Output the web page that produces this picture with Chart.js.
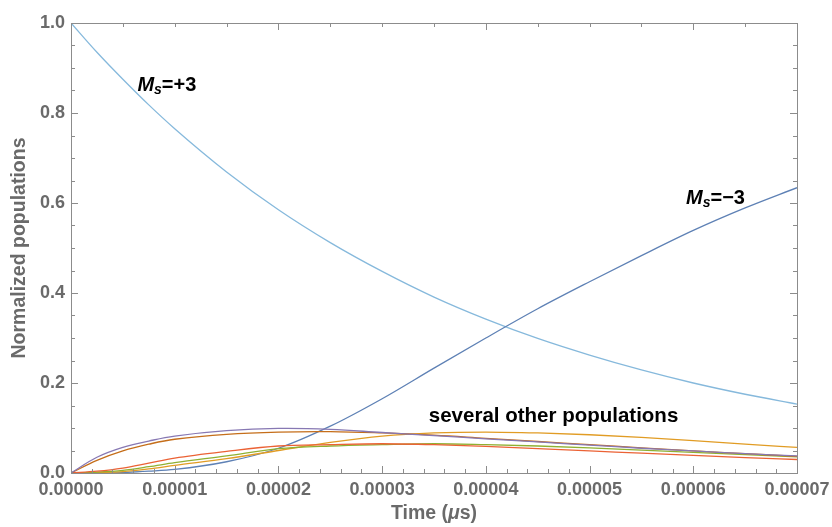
<!DOCTYPE html>
<html><head><meta charset="utf-8">
<script src="https://cdn.jsdelivr.net/npm/chart.js@4/dist/chart.umd.min.js"></script>
<style>html,body{margin:0;padding:0;background:#fff}#wrap{width:832px;height:527px}</style>
</head><body><div id="wrap"><canvas id="c" width="832" height="527"></canvas></div>
<script>
// Time points (μs) and population values
const times = [0, 0.0000025, 0.000005, 0.0000075, 0.00001, 0.000015, 0.00002, 0.000025, 0.00003, 0.000035,
               0.00004, 0.000045, 0.00005, 0.000055, 0.00006, 0.000065, 0.00007];
const msPlus3  = [1.000, 0.935, 0.875, 0.818, 0.765, 0.669, 0.585, 0.512, 0.448, 0.391, 0.342, 0.299, 0.262, 0.229, 0.200, 0.175, 0.153];
const msMinus3 = [0.000, 0.000, 0.001, 0.004, 0.008, 0.025, 0.055, 0.104, 0.165, 0.233, 0.300, 0.365, 0.425, 0.483, 0.539, 0.589, 0.634];
const popPurple = [0.000, 0.035, 0.057, 0.071, 0.082, 0.094, 0.099, 0.097, 0.090, 0.083, 0.076, 0.069, 0.062, 0.055, 0.049, 0.043, 0.038];
const popBrown  = [0.000, 0.028, 0.049, 0.064, 0.075, 0.086, 0.091, 0.092, 0.089, 0.084, 0.077, 0.070, 0.063, 0.056, 0.049, 0.043, 0.037];
const popOrange = [0.000, 0.001, 0.003, 0.009, 0.017, 0.032, 0.050, 0.068, 0.082, 0.089, 0.091, 0.089, 0.085, 0.079, 0.072, 0.064, 0.057];
const popRed    = [0.000, 0.004, 0.011, 0.022, 0.033, 0.048, 0.060, 0.063, 0.065, 0.063, 0.059, 0.054, 0.049, 0.044, 0.039, 0.034, 0.030];
const popGreen  = [0.000, 0.002, 0.006, 0.014, 0.023, 0.038, 0.054, 0.060, 0.063, 0.065, 0.063, 0.060, 0.056, 0.051, 0.046, 0.041, 0.036];
const xTickLabels = ["0.00000","0.00001","0.00002","0.00003","0.00004","0.00005","0.00006","0.00007"];
const yTickLabels = ["0.0","0.2","0.4","0.6","0.8","1.0"];
const xTitle = ["Time (", "μ", "s)"];
const yTitle = "Normalized populations";

const toPts = arr => arr.map((v, i) => ({x: times[i], y: v}));
const mk = (label, arr, color, smooth) => {
  const d = {label, data: toPts(arr), borderColor: color, backgroundColor: color,
    borderWidth: 1.3, pointRadius: 0, fill: false};
  if (smooth) d.tension = 0.4; else d.cubicInterpolationMode = 'monotone';
  return d;
};

const annotations = [
  {t: 0.0000064, v: 0.862, parts: [["M","italic bold 20px 'Liberation Sans'",0],["s","italic bold 14px 'Liberation Sans'",5],["=+3","bold 20px 'Liberation Sans'",0]]},
  {t: 0.0000593, v: 0.610, parts: [["M","italic bold 20px 'Liberation Sans'",0],["s","italic bold 14px 'Liberation Sans'",5],["=\u22123","bold 20px 'Liberation Sans'",0]]},
  {t: 0.0000345, v: 0.126, parts: [["several other populations","bold 20.5px 'Liberation Sans'",0]]}
];

const GRAY = '#6a6a6a';
const FRAME = '#8c8c8c';

const framePlugin = {
  id: 'frame',
  afterDraw(chart) {
    const ctx = chart.ctx, ca = chart.chartArea;
    const xs = chart.scales.x, ys = chart.scales.y;
    ctx.save();
    ctx.strokeStyle = FRAME; ctx.lineWidth = 1;
    ctx.strokeRect(Math.round(ca.left)+0.5, Math.round(ca.top)+0.5, Math.round(ca.right-ca.left), Math.round(ca.bottom-ca.top));
    ctx.beginPath();
    for (let i = 0; i <= 35; i++) {
      const px = Math.round(xs.getPixelForValue(i*0.000002))+0.5;
      const len = i % 5 === 0 ? 7 : 4;
      ctx.moveTo(px, ca.bottom); ctx.lineTo(px, ca.bottom - len);
    }
    for (let i = 0; i <= 14; i++) {
      const px = Math.round(xs.getPixelForValue(i*0.000005))+0.5;
      const len = i % 4 === 0 ? 7 : 4;
      ctx.moveTo(px, ca.top); ctx.lineTo(px, ca.top + len);
    }
    for (let i = 0; i <= 20; i++) {
      const py = Math.round(ys.getPixelForValue(i*0.05))+0.5;
      const len = i % 4 === 0 ? 7 : 4;
      ctx.moveTo(ca.left, py); ctx.lineTo(ca.left + len, py);
      ctx.moveTo(ca.right, py); ctx.lineTo(ca.right - len, py);
    }
    ctx.stroke();

    ctx.fillStyle = '#000';
    ctx.textBaseline = 'middle';
    ctx.textAlign = 'left';
    annotations.forEach(a => {
      let x = xs.getPixelForValue(a.t);
      const y = ys.getPixelForValue(a.v);
      a.parts.forEach(([txt, font, dy]) => {
        ctx.font = font;
        ctx.fillText(txt, x, y + dy);
        x += ctx.measureText(txt).width;
      });
    });

    ctx.fillStyle = GRAY;
    const fonts = ["bold 19.5px 'Liberation Sans'", "italic bold 19.5px 'Liberation Sans'", "bold 19.5px 'Liberation Sans'"];
    let total = 0;
    xTitle.forEach((t, i) => { ctx.font = fonts[i]; total += ctx.measureText(t).width; });
    let tx = (ca.left + ca.right) / 2 - total / 2;
    xTitle.forEach((t, i) => { ctx.font = fonts[i]; ctx.fillText(t, tx, 514); tx += ctx.measureText(t).width; });

    ctx.font = "bold 19.5px 'Liberation Sans'";
    ctx.textAlign = 'center';
    ctx.translate(20, (ca.top + ca.bottom) / 2);
    ctx.rotate(-Math.PI / 2);
    ctx.fillText(yTitle, 0, 0);
    ctx.restore();
  }
};

new Chart(document.getElementById('c'), {
  type: 'line',
  data: {
    datasets: [
      mk('Population 5', popPurple, '#8778B3', true),
      mk('Population 6', popBrown, '#C56E1A', true),
      mk('Population 4', popRed, '#EB6235'),
      mk('Population 3', popGreen, '#8FB032'),
      mk('Population 2', popOrange, '#E19C24'),
      mk('Ms=-3', msMinus3, '#5E81B5'),
      mk('Ms=+3', msPlus3, '#86b9dc')
    ]
  },
  options: {
    responsive: false, animation: false, devicePixelRatio: 1,
    layout: {padding: {left: 0, right: 35, top: 23, bottom: 0}},
    plugins: {legend: {display: false}, tooltip: {enabled: false}},
    scales: {
      x: {
        type: 'linear', min: 0, max: 0.00007,
        grid: {display: false, drawTicks: false}, border: {display: false},
        ticks: {stepSize: 0.00001, padding: 6, color: GRAY, font: {family: 'Liberation Sans', size: 18, weight: 'bold'},
          maxRotation: 0, autoSkip: false,
          callback: (v) => { const i = Math.round(v / 0.00001); return xTickLabels[i]; }},
        afterFit: s => { s.height = 54; s.paddingLeft = 0; s.paddingRight = 0; }
      },
      y: {
        type: 'linear', min: 0, max: 1,
        grid: {display: false, drawTicks: false}, border: {display: false},
        ticks: {stepSize: 0.2, padding: 6, color: GRAY, font: {family: 'Liberation Sans', size: 18, weight: 'bold'},
          callback: (v) => { const i = Math.round(v / 0.2); return yTickLabels[i]; }},
        afterFit: s => { s.width = 71; s.paddingTop = 0; s.paddingBottom = 0; }
      }
    }
  },
  plugins: [framePlugin]
});
</script></body></html>
